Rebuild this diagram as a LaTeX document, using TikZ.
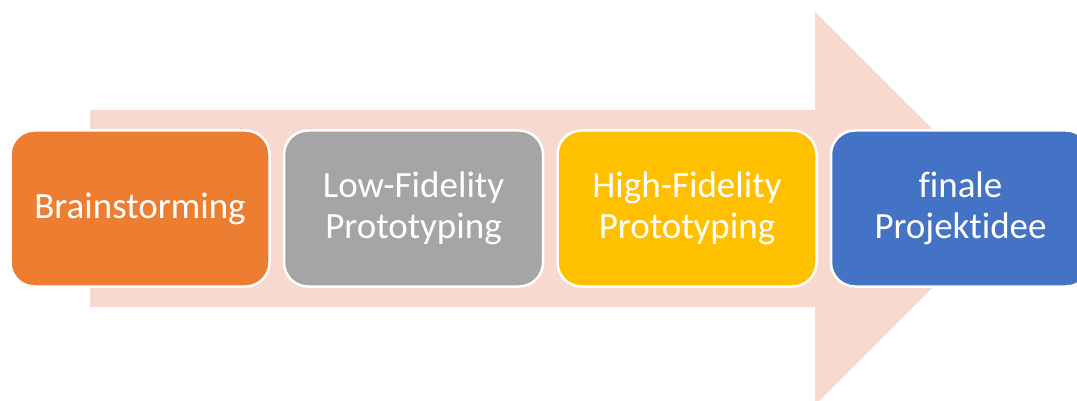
\documentclass[tikz,border=0pt]{standalone}
\usepackage{fontspec}
\setmainfont{Carlito}[Ligatures=NoCommon]
\usepackage{xcolor}
\usetikzlibrary{positioning}

\definecolor{arrowbg}{HTML}{F8D9CF}
\definecolor{orangeC}{HTML}{ED7D31}
\definecolor{grayC}{HTML}{A5A5A5}
\definecolor{goldC}{HTML}{FFC000}
\definecolor{blueC}{HTML}{4472C4}

\begin{document}
\begin{tikzpicture}[
    x=1pt, y=-1pt,
    node distance=12pt,
    st/.style={rectangle, draw=white, line width=2.5pt, rounded corners=24pt, align=center, minimum height=156pt, minimum width=259pt, inner sep=0pt, text=white, font=\fontsize{37}{41}\selectfont},
    s1/.style={st, fill=orangeC},
    s2/.style={st, fill=grayC},
    s3/.style={st, fill=goldC},
    s4/.style={st, fill=blueC}
]
    \useasboundingbox (0,0) rectangle (1077,401);

    % big background arrow
    \fill [arrowbg] (90,110) -- (815,110) -- (815,12) -- (1012,208.5) -- (815,405) -- (815,307) -- (90,307) -- cycle;

    \node [s1, anchor=center] (brain) at (140,208.5) {Brainstorming};
    \node [s2, right=of brain] (lofi) {Low-Fidelity\\Prototyping};
    \node [s3, right=of lofi] (hifi) {High-Fidelity\\Prototyping};
    \node [s4, right=of hifi] (idee) {finale\\Projektidee};
\end{tikzpicture}
\end{document}
